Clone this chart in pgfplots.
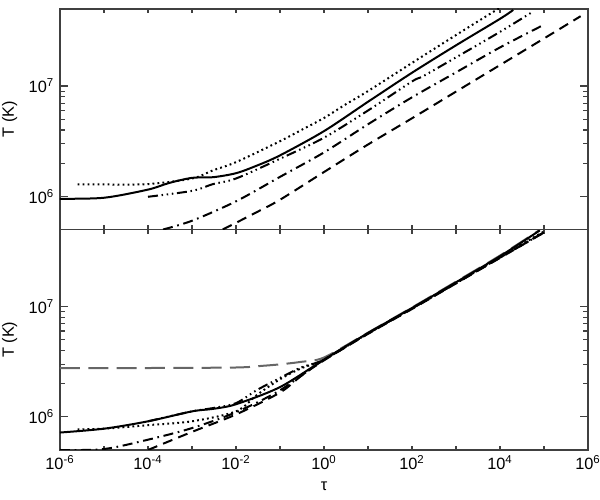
\documentclass[border=0pt]{standalone}
\usepackage{fontspec}
\setmainfont{Liberation Sans}
\usepackage{pgfplots}
\pgfplotsset{compat=1.18}

\tikzset{
  sol/.style={black, line width=1.2pt, smooth},
  dot/.style={black, line width=1.2pt, smooth, dash pattern=on 1.1pt off 1.9pt},
  dtd/.style={black, line width=1.2pt, smooth, dash pattern=on 6pt off 2.2pt on 0.9pt off 2.2pt on 0.9pt off 2.2pt on 0.9pt off 2.2pt},
  ddot/.style={black, line width=1.2pt, smooth, dash pattern=on 6pt off 2.8pt on 1pt off 2.8pt},
  das/.style={black, line width=1.2pt, smooth, dash pattern=on 6pt off 3.8pt},
  gld/.style={black!60, line width=1.2pt, smooth, dash pattern=on 12pt off 5pt},
}

\begin{document}
\begin{tikzpicture}
\pgfplotsset{
    scale only axis,
    width=316.8pt, height=132.3pt,
    xmin=1e-6, xmax=1e6,
    ymin=5e5, ymax=5e7,
    xtick={1e-6,1e-5,1e-4,1e-3,1e-2,1e-1,1e0,1e1,1e2,1e3,1e4,1e5,1e6},
    ytick={1e6,1e7},
    yticklabels={10\textsuperscript{6},10\textsuperscript{7}},
    major tick length=2.6pt, minor tick length=2.8pt,
    extra y ticks={1e6,1e7}, extra y tick labels={},
    extra tick style={major tick length=4.8pt},
    axis line style={black!75, line width=0.9pt},
    every tick/.style={black!75, line width=0.7pt},
    tick label style={font=\fontsize{9.8}{11}\selectfont},
    label style={font=\fontsize{9.8}{11}\selectfont},
    ylabel={T (K)},
}

% lower panel
\begin{axis}[xmode=log, ymode=log, xminorticks=false, at={(0,0)},
  xticklabels={10\textsuperscript{-6},,10\textsuperscript{-4},,10\textsuperscript{-2},,10\textsuperscript{0},,10\textsuperscript{2},,10\textsuperscript{4},,10\textsuperscript{6}},
  xlabel={τ}]
\addplot[gld] coordinates {(1e-6,2.76e6) (1e-4,2.77e6) (1e-2,2.8e6) (4e-2,2.9e6) (1e-1,2.99e6) (3e-1,3.15e6) (1e0,3.45e6) (1e1,5.8e6) (1e2,9.8e6) (1e3,1.68e7) (1e4,2.9e7) (8e4,4.95e7)};
\addplot[sol] coordinates {(1e-6,7.2e5) (1e-5,7.8e5) (1e-4,9.1e5) (1e-3,1.12e6) (3e-3,1.18e6) (1e-2,1.3e6) (1e-1,1.86e6) (1e0,3.3e6) (1e1,5.75e6) (1e2,9.7e6) (1e3,1.66e7) (1e4,2.86e7) (8e4,4.9e7)};
\addplot[dot] coordinates {(2.5e-6,7.7e5) (1e-5,7.8e5) (1e-4,8.4e5) (1e-3,9.1e5) (1e-2,1.12e6) (3e-2,1.58e6) (1e-1,2.19e6) (3e-1,2.75e6) (1e0,3.3e6) (1e1,5.7e6) (1e2,9.6e6) (1e3,1.64e7) (1e4,2.82e7) (1e5,4.8e7)};
\addplot[dtd] coordinates {(1e-4,9.1e5) (1e-3,1.12e6) (3e-3,1.2e6) (1e-2,1.33e6) (3e-2,1.75e6) (1e-1,2.25e6) (3e-1,2.8e6) (1e0,3.3e6) (1e1,5.7e6) (1e2,9.6e6) (1e3,1.63e7) (1e4,2.78e7) (1e5,4.7e7)};
\addplot[ddot] coordinates {(1e-6,5e5) (1e-5,5.1e5) (1e-4,6.2e5) (1e-3,7.9e5) (1e-2,1.1e6) (1e-1,1.74e6) (1e0,3.3e6) (1e1,5.7e6) (1e2,9.6e6) (1e3,1.63e7) (1e4,2.78e7) (1e5,4.7e7)};
\addplot[das] coordinates {(1e-4,5e5) (1e-3,7.3e5) (1e-2,1.05e6) (1e-1,1.66e6) (3e-1,2.34e6) (1e0,3.25e6) (1e1,5.65e6) (1e2,9.5e6) (1e3,1.62e7) (1e4,2.76e7) (1e5,4.7e7)};
\end{axis}

% upper panel
\begin{axis}[xmode=log, ymode=log, xminorticks=false, at={(0,132.3pt)}, xticklabels={}]
\addplot[sol] coordinates {(1e-6,9.5e5) (1e-5,9.7e5) (1e-4,1.15e6) (3e-4,1.32e6) (1e-3,1.47e6) (3e-3,1.49e6) (1e-2,1.62e6) (3e-2,1.9e6) (1e-1,2.35e6) (1e0,3.9e6) (1e1,7.2e6) (1e2,1.32e7) (1e3,2.34e7) (1e4,4.07e7) (2e4,4.9e7)};
\addplot[dot] coordinates {(2.5e-6,1.28e6) (1e-5,1.28e6) (1e-4,1.29e6) (1e-3,1.45e6) (3e-3,1.72e6) (1e-2,2.04e6) (1e-1,3.16e6) (3e-1,3.98e6) (1e0,5.13e6) (3e0,6.76e6) (1e1,9.0e6) (1e2,1.62e7) (1e3,2.9e7) (7e3,4.7e7) (1e4,5.1e7)};
\addplot[dtd] coordinates {(1e-4,9.9e5) (1e-3,1.12e6) (3e-3,1.29e6) (1e-2,1.45e6) (1e-1,2.19e6) (1e0,3.4e6) (1e1,6.0e6) (1e2,1.1e7) (1.8e2,1.23e7) (1e3,1.82e7) (1e4,3.1e7) (5.7e4,4.75e7)};
\addplot[ddot] coordinates {(2.2e-4,5e5) (1e-3,6.0e5) (1e-2,9.0e5) (1e-1,1.5e6) (1e0,2.5e6) (1e1,4.5e6) (1e2,7.9e6) (1e3,1.33e7) (1e4,2.24e7) (1e5,3.6e7)};
\addplot[das] coordinates {(5e-3,5e5) (1e-2,5.75e5) (3e-2,7.2e5) (1e-1,9.3e5) (1e0,1.66e6) (1e1,2.95e6) (1e2,5.1e6) (1e3,8.9e6) (1e4,1.55e7) (1e5,2.7e7) (6.8e5,4.3e7)};
\end{axis}

\pgfresetboundingbox
\useasboundingbox (-36pt,-30pt) rectangle (324pt,270pt);
\end{tikzpicture}
\end{document}
